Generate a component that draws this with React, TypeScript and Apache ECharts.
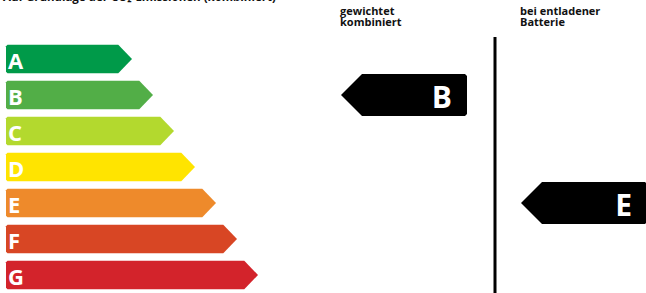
import React, { useEffect, useRef } from 'react';
import * as echarts from 'echarts';

// Energy-efficiency classes (top to bottom)
const classes = ['A', 'B', 'C', 'D', 'E', 'F', 'G'];
// Tip position of each class arrow on the value axis
const classLengths = [132, 153, 174, 195, 216, 237, 258];
const classColors = ['#009a49', '#52ae47', '#b3d92e', '#ffe400', '#ee8a2b', '#d84624', '#d3232b'];

// Indicator columns
const indicatorHeaders = [['gewichtet', 'kombiniert'], ['bei entladener', 'Batterie']];
const indicatorClasses = ['B', 'E'];
const indicatorPositions = [341, 521];

const titleText = 'Auf Grundlage der CO\u2082-Emissionen (kombiniert)';
const FONT = '"Open Sans", "Noto Sans", sans-serif';

export default function App() {
  const ref = useRef<HTMLDivElement>(null);
  useEffect(() => {
    if (!ref.current) return;
    const chart = echarts.init(ref.current, undefined, { renderer: 'svg' });

    const classData = classes.map((c, i) => [classLengths[i], i]);
    const indicatorData = indicatorClasses.map((c, i) => [indicatorPositions[i], classes.indexOf(c), i]);

    chart.setOption({
      animation: false,
      backgroundColor: '#ffffff',
      grid: { left: 0, right: 0, top: 41, bottom: 0 },
      xAxis: { type: 'value', min: 0, max: 646, show: false },
      yAxis: { type: 'category', data: classes, inverse: true, show: false },
      graphic: [
        {
          type: 'text',
          x: 3,
          y: -9.5,
          style: { text: titleText, font: `bold 11.5px ${FONT}`, fill: '#111', verticalAlign: 'top' },
        },
        {
          type: 'rect',
          shape: { x: 493.5, y: 37, width: 3, height: 260 },
          style: { fill: '#000' },
        },
      ],
      series: [
        {
          type: 'custom',
          coordinateSystem: 'cartesian2d',
          data: classData,
          renderItem: (params: any, api: any) => {
            const idx = api.value(1);
            const tip = api.coord([api.value(0), idx]);
            const band = api.size([0, 1])[1];
            const h = band * 0.79;
            const top = tip[1] - h / 2;
            const bottom = top + h;
            const left = api.coord([0, idx])[0] + 6;
            const depth = h / 2 - 0.5;
            const rectRight = tip[0] - depth;
            const color = classColors[params.dataIndex];
            return {
              type: 'group',
              children: [
                {
                  type: 'polygon',
                  shape: {
                    points: [
                      [left + 1.5, top],
                      [rectRight, top],
                      [tip[0], tip[1]],
                      [rectRight, bottom],
                      [left + 1.5, bottom],
                      [left, bottom - 1.5],
                      [left, top + 1.5],
                    ],
                  },
                  style: { fill: color },
                },
                {
                  type: 'text',
                  x: left + 2,
                  y: tip[1] + 0.5,
                  style: {
                    text: classes[idx],
                    fill: '#fff',
                    font: `bold 22px ${FONT}`,
                    verticalAlign: 'middle',
                    align: 'left',
                  },
                },
              ],
            };
          },
        },
        {
          type: 'custom',
          coordinateSystem: 'cartesian2d',
          data: indicatorData,
          clip: false,
          renderItem: (params: any, api: any) => {
            const idx = api.value(1);
            const i = api.value(2);
            const tip = api.coord([api.value(0), idx]);
            const h = 42;
            const depth = 21;
            const width = 126;
            const top = tip[1] - h / 2;
            const bottom = top + h;
            const rectLeft = tip[0] + depth;
            const right = tip[0] + width;
            const headers = indicatorHeaders[i];
            return {
              type: 'group',
              children: [
                {
                  type: 'polygon',
                  shape: {
                    points: [
                      [rectLeft, top],
                      [right - 2, top],
                      [right, top + 2],
                      [right, bottom - 2],
                      [right - 2, bottom],
                      [rectLeft, bottom],
                      [tip[0], tip[1]],
                    ],
                  },
                  style: { fill: '#000' },
                },
                {
                  type: 'text',
                  x: tip[0] + 111,
                  y: tip[1] + 1,
                  style: {
                    text: indicatorClasses[i],
                    fill: '#fff',
                    font: `bold 30px ${FONT}`,
                    verticalAlign: 'middle',
                    align: 'right',
                  },
                },
                ...headers.map((t: string, k: number) => ({
                  type: 'text',
                  x: tip[0] - 1,
                  y: 5 + k * 11.3,
                  style: {
                    text: t,
                    fill: '#111',
                    font: `bold 11px ${FONT}`,
                    lineHeight: 11,
                    verticalAlign: 'top',
                    align: 'left',
                  },
                })),
              ],
            };
          },
        },
      ],
    });
    return () => chart.dispose();
  }, []);
  return <div ref={ref} style={{ position: 'fixed', left: 0, top: 0, width: 646, height: 293 }} />;
}
